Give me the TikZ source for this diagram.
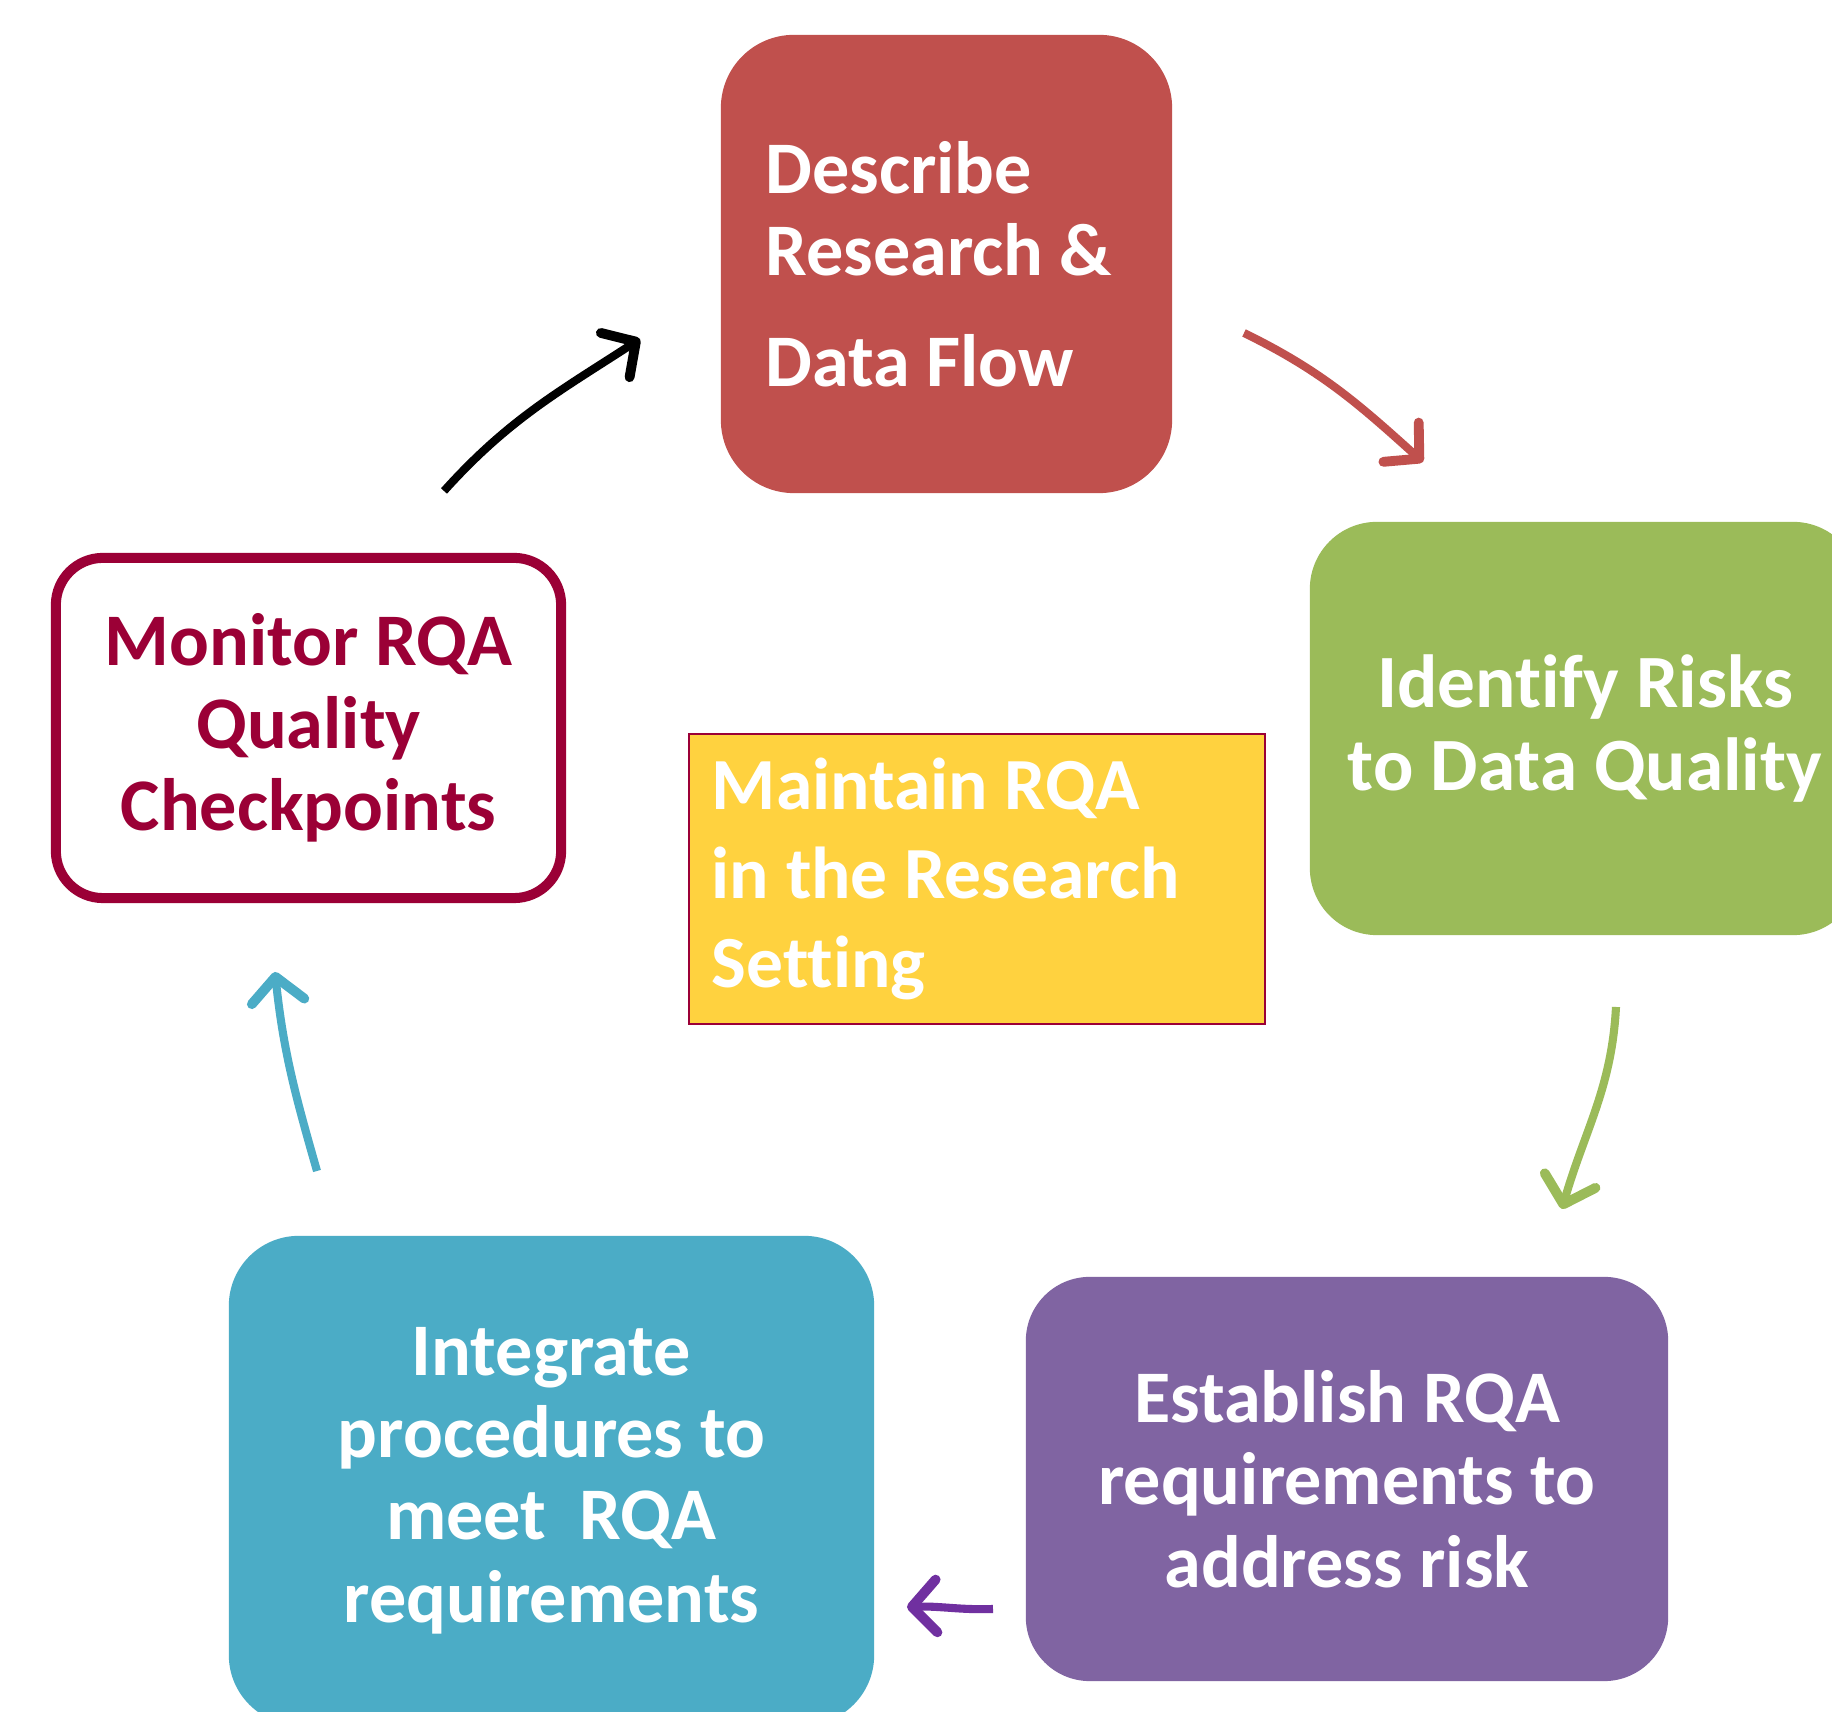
\documentclass[tikz,border=0pt]{standalone}
\usepackage{fontspec}
\setmainfont{Carlito}[Ligatures=NoCommon]
\usetikzlibrary{arrows.meta}
\definecolor{stepred}{HTML}{C0504D}
\definecolor{stepgreen}{HTML}{9BBB59}
\definecolor{steppurple}{HTML}{8064A2}
\definecolor{stepteal}{HTML}{4BACC6}
\definecolor{monitorred}{HTML}{9B0036}
\definecolor{maintainyellow}{HTML}{FFD23F}
\definecolor{arrowpurple}{HTML}{7030A0}
\tikzset{
  stagebox/.style={rounded corners=#1, text=white, inner sep=0pt, align=center,
    font=\bfseries\fontsize{21.1pt}{23.4pt}\selectfont},
  cyclearrow/.style={line width=2.3pt, draw=#1, -{Straight Barb[length=7pt,width=15pt,line width=2.8pt,round]}},
}
\begin{document}
\begin{tikzpicture}[x=0.01cm,y=0.01cm]
		\useasboundingbox[fill=white] (0,0) rectangle (1832,1712);
		% stages of the cycle
		\node[stagebox=0.73cm, fill=stepred, minimum width=4.51cm, minimum height=4.58cm,
			text width=3.62cm, align=flush left] (describe) at (946.5,1448)
			{Describe\\Research \&\\[8pt]Data Flow};
		\node[stagebox=0.67cm, fill=stepgreen, minimum width=5.50cm, minimum height=4.13cm,
			font=\bfseries\fontsize{21.4pt}{23.6pt}\selectfont] (identify) at (1585,983.5)
			{Identify Risks\\to Data Quality};
		\node[stagebox=0.64cm, fill=steppurple, minimum width=6.42cm, minimum height=4.04cm] (establish) at (1347,233)
			{Establish RQA\\requirements to\\address risk};
		\node[stagebox=0.70cm, fill=stepteal, minimum width=6.45cm, minimum height=4.89cm] (integrate) at (551.5,231.5)
			{Integrate\\procedures to\\meet\ \ RQA\\requirements};
		\node[stagebox=0.47cm, draw=monitorred, line width=2.85pt, fill=white, text=monitorred,
			minimum width=5.05cm, minimum height=3.40cm] (monitor) at (308.5,984)
			{Monitor RQA\\Quality\\Checkpoints};
		% centre box
		\node[stagebox=0pt, draw=monitorred, line width=0.5pt, fill=maintainyellow, sharp corners,
			minimum width=5.76cm, minimum height=2.90cm, text width=5.30cm, align=flush left,
			font=\bfseries\fontsize{20.9pt}{25.3pt}\selectfont] (maintain) at (977,833)
			{Maintain RQA\\in the Research\\Setting};
		% arrow ends
		\coordinate (m2d-a) at (444,1221);
		\coordinate (m2d-b) at (640,1373);
		\coordinate (d2i-a) at (1244,1379);
		\coordinate (d2i-b) at (1423,1250);
		\coordinate (i2e-a) at (1616,705);
		\coordinate (i2e-b) at (1562,503);
		\coordinate (e2g-a) at (993,103);
		\coordinate (e2g-b) at (907,105);
		\coordinate (g2m-a) at (317,541);
		\coordinate (g2m-b) at (275,740);
		\draw[cyclearrow=black] (m2d-a) to[out=48,in=213] (m2d-b);
		\draw[cyclearrow=stepred] (d2i-a) to[out=-26,in=138] (d2i-b);
		\draw[cyclearrow=stepgreen] (i2e-a) to[out=267,in=74] (i2e-b);
		\draw[cyclearrow=arrowpurple] (e2g-a) to[out=182,in=2] (e2g-b);
		\draw[cyclearrow=stepteal] (g2m-a) to[out=106,in=276] (g2m-b);
\end{tikzpicture}
\end{document}
